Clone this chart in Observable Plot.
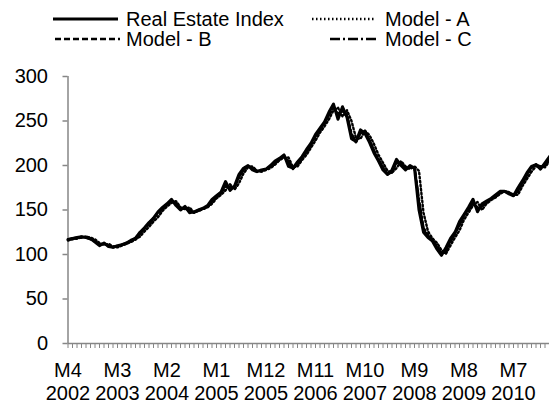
<!DOCTYPE html>
<html><head><meta charset="utf-8">
<script src="https://cdn.jsdelivr.net/npm/d3@7"></script>
<script src="https://cdn.jsdelivr.net/npm/@observablehq/plot@0.6"></script>
<style>
body{margin:0;background:#fff;font-family:"Liberation Sans",Arial,sans-serif;}
#wrap{position:relative;width:549px;height:404px;overflow:hidden;}
.lt{position:absolute;font-size:20px;line-height:20px;color:#000;white-space:nowrap;}
.ls{position:absolute;}
</style></head><body>
<div id="wrap"></div>
<script>
// Monthly series, April 2002 .. March 2011
const startYear = 2002, startMonth = 4;
const realIndex = [
117,118,119,120,119,118,114,110,113,109,
108,110,111,113,116,118,125,130,136,141,
148,153,157,162,155,150,154,147,148,150,
152,155,162,166,170,182,172,177,190,197,
200,195,193,195,196,200,205,208,212,199,
197,204,210,218,225,235,242,249,260,269,
252,266,254,230,227,240,236,226,214,205,
195,190,195,207,200,195,200,197,150,125,
119,115,106,99,108,118,125,137,145,153,
162,148,157,160,163,167,171,171,168,166,
175,183,192,199,201,196,203,210];
const modelA = [
116,117,118,119,120,119,117,113,111,112,
109,108,110,112,114,117,120,126,131,137,
142,149,154,158,160,153,151,153,147,149,
151,153,157,163,167,172,179,173,180,191,
198,199,194,193,195,197,201,206,209,209,
198,199,206,212,220,228,237,244,252,262,
265,255,262,250,231,230,239,234,224,212,
203,194,192,197,205,199,196,199,194,147,
126,118,113,105,101,110,119,127,139,147,
155,159,150,157,161,164,168,171,170,167,
167,177,185,193,199,199,198,205];
const modelB = [
117,118,118,120,119,117,115,111,112,110,
108,109,111,113,115,119,124,129,135,141,
147,152,156,160,157,151,152,149,147,150,
151,154,160,165,170,178,175,176,187,196,
199,197,193,194,196,199,204,207,211,203,
196,202,209,216,224,233,241,248,258,266,
256,262,256,234,226,237,238,228,216,206,
197,190,193,204,202,196,198,198,158,128,
121,116,108,101,104,116,124,134,144,151,
159,151,155,159,162,166,170,171,169,166,
172,181,190,198,201,198,201,208];
const modelC = [
116,118,119,119,120,118,115,111,112,110,
109,109,111,112,115,117,123,129,134,140,
146,151,156,160,158,152,152,150,147,149,
151,154,159,164,169,176,176,176,186,195,
199,198,194,194,196,198,203,206,210,205,
197,201,208,215,223,232,240,247,257,265,
258,261,257,236,227,236,239,229,217,207,
198,191,192,203,203,197,197,199,162,130,
122,117,109,102,102,114,123,133,143,150,
158,153,154,158,162,165,169,171,170,167,
171,180,189,197,201,199,200,207];
const tickLabels = ["M4 2002","M3 2003","M2 2004","M1 2005","M12 2005","M11 2006","M10 2007","M9 2008","M8 2009","M7 2010"];
const yTicks = [0,50,100,150,200,250,300];
const seriesNames = ["Real Estate Index","Model - A","Model - B","Model - C"];

const months = realIndex.map((_, i) => {
  const m0 = startMonth - 1 + i;
  return `M${m0 % 12 + 1} ${startYear + Math.floor(m0 / 12)}`;
});
const seriesValues = [realIndex, modelA, modelB, modelC];
const dashes = [null, "1.5,2.5", "6,3", "10,3,2,3"];
const widths = [3, 2.4, 2.4, 2.4];
const rows = seriesNames.map((name, s) => seriesValues[s].map((v, i) => ({month: months[i], value: v, series: name})));

const chart = Plot.plot({
  width: 549, height: 404,
  marginLeft: 67.5, marginRight: 0, marginTop: 76, marginBottom: 61,
  x: {type: "point", domain: months, padding: 0},
  y: {domain: [0, 300]},
  style: {fontFamily: "'Liberation Sans', Arial, sans-serif", fontSize: "20px", background: "transparent", color: "#000", overflow: "visible"},
  marks: [
    Plot.ruleX([months[0]], {stroke: "#868686", strokeWidth: 1.5}),
    Plot.ruleY([0], {stroke: "#868686", strokeWidth: 1.5}),
    Plot.axisY({ticks: yTicks, tickSize: 5, tickPadding: 15, stroke: "#868686", strokeWidth: 1.5, strokeOpacity: 1, label: null, fontSize: 20}),
    Plot.axisX({ticks: months, tickSize: 5, tickFormat: () => "", stroke: "#868686", strokeOpacity: 1, label: null}),
    Plot.axisX({ticks: tickLabels, tickSize: 0, tickPadding: 17, tickFormat: d => d.replace(" ", "\n"), label: null, lineHeight: 1.15, fontSize: 20}),
    ...rows.map((r, s) => Plot.line(r, {x: "month", y: "value", stroke: "#000", strokeWidth: widths[s], strokeDasharray: dashes[s], strokeLinejoin: "round"}))
  ]
});
const wrap = document.getElementById("wrap");
wrap.appendChild(chart);

// Legend
const legendPos = [
  {x1: 53, x2: 118, y: 19, tx: 126},
  {x1: 312, x2: 375, y: 19, tx: 385},
  {x1: 55, x2: 120, y: 39, tx: 126},
  {x1: 330, x2: 378, y: 39, tx: 385}
];
seriesNames.forEach((name, s) => {
  const p = legendPos[s];
  const svg = d3.create("svg").attr("class", "ls").attr("width", p.x2 - p.x1).attr("height", 6)
    .style("left", p.x1 + "px").style("top", (p.y - 3) + "px");
  svg.append("line").attr("x1", 0).attr("x2", p.x2 - p.x1).attr("y1", 3).attr("y2", 3)
    .attr("stroke", "#000").attr("stroke-width", widths[s]).attr("stroke-dasharray", dashes[s]);
  wrap.appendChild(svg.node());
  const t = document.createElement("div");
  t.className = "lt";
  t.textContent = name;
  t.style.left = p.tx + "px";
  t.style.top = (p.y - 10) + "px";
  wrap.appendChild(t);
});
</script>
</body></html>
